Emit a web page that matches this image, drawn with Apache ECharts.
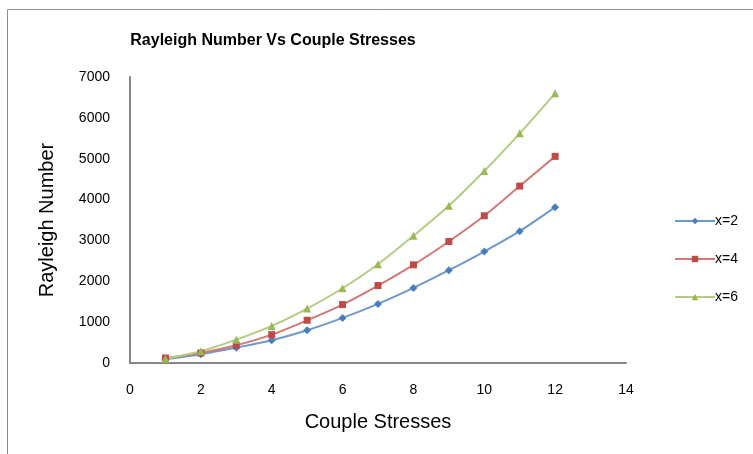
<!DOCTYPE html>
<html>
<head>
<meta charset="utf-8">
<script src="https://cdn.jsdelivr.net/npm/echarts@6/dist/echarts.min.js"></script>
<style>
  html, body { margin: 0; padding: 0; background: #fff; }
  #chart { width: 753px; height: 454px; }
</style>
</head>
<body>
<div id="chart"></div>
<script>
// couple stresses on x, rayleigh number on y
const stresses = [1, 2, 3, 4, 5, 6, 7, 8, 9, 10, 11, 12];
const x2 = [90, 212, 376, 556, 800, 1103, 1446, 1838, 2271, 2729, 3227, 3815];
const x4 = [123, 245, 433, 694, 1046, 1430, 1895, 2402, 2974, 3603, 4330, 5057];
const x6 = [106, 286, 572, 907, 1332, 1830, 2418, 3113, 3848, 4698, 5621, 6601];
const seriesNames = ["x=2", "x=4", "x=6"];

const pairs = (ys) => stresses.map((s, i) => [s, ys[i]]);

const chart = echarts.init(document.getElementById("chart"));
const font = "Liberation Sans, Arial, sans-serif";

const option = {
  animation: false,
  title: {
    text: "Rayleigh Number Vs Couple Stresses",
    left: 268,
    top: 28,
    textAlign: "center",
    textStyle: { fontFamily: font, fontWeight: "bold", fontSize: 16, color: "#000" },
  },
  graphic: [
    {
      type: "rect",
      shape: { x: 7.5, y: 9.5, width: 800, height: 500 },
      style: { fill: "none", stroke: "#8c8c8c", lineWidth: 1 },
      silent: true,
    },
  ],
  legend: {
    orient: "vertical",
    left: 669,
    top: 209,
    itemWidth: 40,
    itemHeight: 8,
    itemGap: 24,
    data: seriesNames,
    textStyle: { fontFamily: font, fontSize: 14, color: "#000", padding: [0, 0, 0, -5] },
  },
  grid: { left: 130, right: 127, top: 77, bottom: 91 },
  xAxis: {
    type: "value",
    min: 0,
    max: 14,
    interval: 2,
    name: "Couple Stresses",
    nameLocation: "middle",
    nameGap: 49,
    nameTextStyle: { fontFamily: font, fontSize: 20, color: "#000" },
    axisLine: { lineStyle: { color: "#868686", width: 2 } },
    axisTick: { show: false },
    axisLabel: { margin: 20, fontFamily: font, fontSize: 14, color: "#000" },
    splitLine: { show: false },
  },
  yAxis: {
    type: "value",
    min: 0,
    max: 7000,
    interval: 1000,
    name: "Rayleigh Number",
    nameLocation: "middle",
    nameGap: 73,
    nameTextStyle: { fontFamily: font, fontSize: 20, color: "#000" },
    axisLine: { show: true, lineStyle: { color: "#868686", width: 2 } },
    axisTick: { show: false },
    axisLabel: { margin: 20, fontFamily: font, fontSize: 14, color: "#000", formatter: (v) => String(v) },
    splitLine: { show: false },
  },
  series: [
    {
      name: seriesNames[0],
      type: "line",
      smooth: 0.3,
      symbol: "diamond",
      symbolSize: 8,
      data: pairs(x2),
      itemStyle: { color: "#4a7ebb" },
      lineStyle: { color: "#6f98cc", width: 2 },
    },
    {
      name: seriesNames[1],
      type: "line",
      smooth: 0.3,
      symbol: "rect",
      symbolSize: 7,
      data: pairs(x4),
      itemStyle: { color: "#be4b48" },
      lineStyle: { color: "#d27876", width: 2 },
    },
    {
      name: seriesNames[2],
      type: "line",
      smooth: 0.3,
      symbol: "triangle",
      symbolSize: 8,
      data: pairs(x6),
      itemStyle: { color: "#98b954" },
      lineStyle: { color: "#b2cc80", width: 2 },
    },
  ],
};
chart.setOption(option);
</script>
</body>
</html>
